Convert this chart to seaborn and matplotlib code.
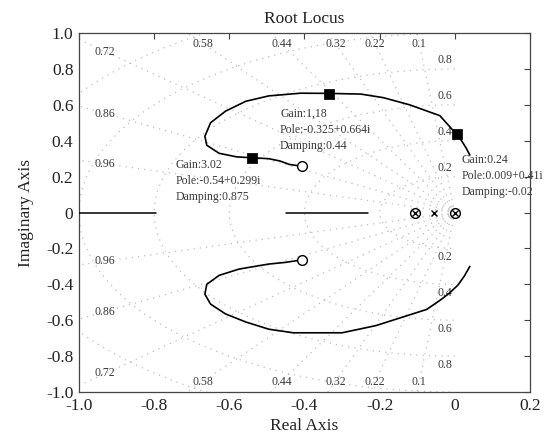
import numpy as np
import pandas as pd
import matplotlib
matplotlib.use("Agg")
import matplotlib.pyplot as plt
import seaborn as sns

# ---------------- data ----------------
upper_re = [0.040, 0.030, 0.018, 0.003, -0.040, -0.120, -0.190, -0.250, -0.338, -0.410,
            -0.495, -0.556, -0.610, -0.650, -0.665, -0.660, -0.627, -0.580,
            -0.537, -0.495, -0.465, -0.440, -0.420]
upper_im = [0.320, 0.360, 0.400, 0.440, 0.540, 0.600, 0.640, 0.660, 0.664, 0.665,
            0.650, 0.620, 0.565, 0.500, 0.425, 0.375, 0.330, 0.310,
            0.305, 0.300, 0.287, 0.268, 0.262]
lower_re = [-0.420, -0.452, -0.495, -0.574, -0.627, -0.660, -0.665, -0.650,
            -0.610, -0.556, -0.495, -0.430, -0.300, -0.210, -0.120, -0.075,
            -0.040, -0.015, 0.008, 0.025, 0.040]
lower_im = [-0.268, -0.278, -0.287, -0.315, -0.350, -0.400, -0.455, -0.510,
            -0.565, -0.610, -0.650, -0.670, -0.670, -0.630, -0.570, -0.540,
            -0.490, -0.450, -0.405, -0.355, -0.300]
real_seg1 = [-1.0, -0.795]
real_seg2 = [-0.45, -0.23]

zeros_re = [-0.407, -0.407, -0.107, 0.0]
zeros_im = [0.262, -0.265, 0.0, 0.0]
poles_re = [-0.107, -0.055, 0.0]
poles_im = [0.0, 0.0, 0.0]

sel_re = [-0.540, -0.335, 0.005]
sel_im = [0.305, 0.662, 0.435]
sel_text = ["Gain:3.02\nPole:-0.54+0.299i\nDamping:0.875",
            "Gain:1,18\nPole:-0.325+0.664i\nDamping:0.44",
            "Gain:0.24\nPole:0.009+0.41i\nDamping:-0.02"]

zetas = [0.1, 0.22, 0.32, 0.44, 0.58, 0.72, 0.86, 0.96]
wns = [0.2, 0.4, 0.6, 0.8, 1.0, 1.2]
wn_labels = [0.2, 0.4, 0.6, 0.8]

xticks = [-1.0, -0.8, -0.6, -0.4, -0.2, 0.0, 0.2]
yticks = [-1.0, -0.8, -0.6, -0.4, -0.2, 0.0, 0.2, 0.4, 0.6, 0.8, 1.0]

# ---------------- style ----------------
sns.set_style("white")
plt.rcParams['font.family'] = ['Liberation Serif', 'DejaVu Serif']
plt.rcParams['axes.unicode_minus'] = False

fig = plt.figure(figsize=(5.5, 4.38), dpi=100)
ax = fig.add_axes([0.1436, 0.105, 0.82, 0.8195])

gcol = '#bdbdbd'
gls = (0, (1, 4))
lcol = '#3a3a3a'
# damping lines
for z in zetas:
    th = np.arccos(z)
    r = np.array([0, 3.0])
    ax.plot(-r * np.cos(th), r * np.sin(th), color=gcol, ls=gls, lw=0.9, zorder=1)
    ax.plot(-r * np.cos(th), -r * np.sin(th), color=gcol, ls=gls, lw=0.9, zorder=1)
    slope = np.tan(th)
    xl = -0.94 / slope
    if xl >= -0.93:
        px, py = xl, 0.94
    else:
        px, py = -0.93, 0.93 * slope
    lab = f"{z:g}"
    ax.text(px, py, lab, fontsize=8.5, color=lcol, ha='center', va='center', zorder=2)
    ax.text(px, -py if py < 0.9 else -0.945, lab, fontsize=8.5, color=lcol,
            ha='center', va='center', zorder=2)
# natural frequency semicircles
t = np.linspace(np.pi / 2, 3 * np.pi / 2, 200)
for w in wns:
    ax.plot(w * np.cos(t), w * np.sin(t), color=gcol, ls=gls, lw=0.9, zorder=1)
for w in wn_labels:
    ax.text(-0.027, w + 0.05, f"{w:g}", fontsize=8.5, color=lcol, ha='center', va='center', zorder=2)
    ax.text(-0.027, -(w + 0.05), f"{w:g}", fontsize=8.5, color=lcol, ha='center', va='center', zorder=2)

# branches
df_up = pd.DataFrame({"re": upper_re, "im": upper_im})
df_lo = pd.DataFrame({"re": lower_re, "im": lower_im})
sns.lineplot(data=df_up, x="re", y="im", sort=False, estimator=None, errorbar=None,
             color='black', lw=1.2, ax=ax, zorder=3)
sns.lineplot(data=df_lo, x="re", y="im", sort=False, estimator=None, errorbar=None,
             color='black', lw=1.2, ax=ax, zorder=3)
ax.plot(real_seg1, [0, 0], color='black', lw=1.1, zorder=3)
ax.plot(real_seg2, [0, 0], color='black', lw=1.1, zorder=3)

# zeros and poles
ax.plot(zeros_re, zeros_im, ls='none', marker='o', ms=7, mfc='white', mec='black', mew=1.0, zorder=4)
ax.plot(poles_re, poles_im, ls='none', marker='x', ms=4, mec='black', mew=1.0, zorder=5)

# selected points
df_sel = pd.DataFrame({"re": sel_re, "im": sel_im})
sns.scatterplot(data=df_sel, x="re", y="im", marker='s', s=45, color='black', edgecolor='black', ax=ax, zorder=6)
txt_pos = [(-0.742, 0.30), (-0.465, 0.585), (0.019, 0.325)]
for (tx, ty), s in zip(txt_pos, sel_text):
    ax.text(tx, ty, s, fontsize=8.5, color=lcol, ha='left', va='top', linespacing=1.45, zorder=7)

ax.set_xlim(-1.0, 0.2)
ax.set_ylim(-1.0, 1.0)
ax.set_xticks(xticks)
ax.set_yticks(yticks)
ax.set_xticklabels(["0" if v == 0 else f"{v:.1f}" for v in xticks])
ax.set_yticklabels(["0" if v == 0 else f"{v:.1f}" for v in yticks])
ax.tick_params(direction='in', length=4, top=True, right=True, labelsize=12.5, width=0.8,
               color='#444444', labelcolor='#222222', pad=4)
for sp in ax.spines.values():
    sp.set_linewidth(0.9)
    sp.set_color('#444444')
ax.set_xlabel("Real Axis", fontsize=12.5, labelpad=3, color='#222222')
ax.set_ylabel("Imaginary Axis", fontsize=12.5, labelpad=9, color='#222222')
ax.set_title("Root Locus", fontsize=12.5, pad=7, color='#222222')

fig.savefig("out.png", dpi=100)
